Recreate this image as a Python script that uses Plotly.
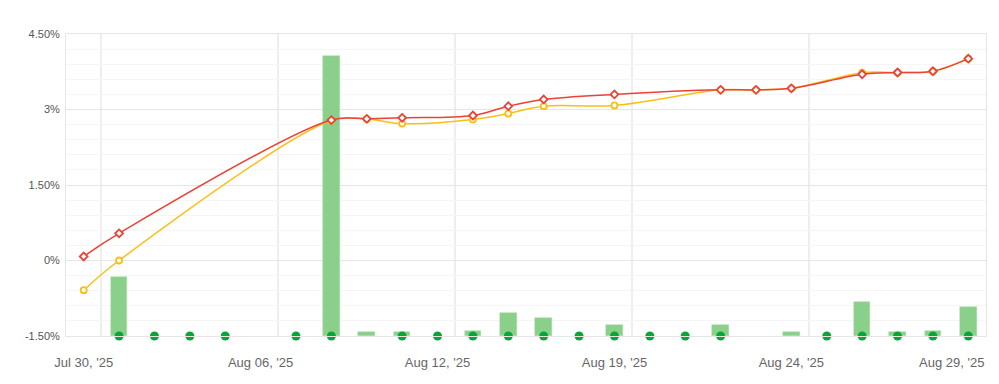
import plotly.graph_objects as go

dates = ["Jul 30, '25", "Jul 31, '25", "Aug 01, '25", "Aug 04, '25", "Aug 05, '25",
         "Aug 06, '25", "Aug 07, '25", "Aug 08, '25", "Aug 10, '25", "Aug 11, '25",
         "Aug 12, '25", "Aug 13, '25", "Aug 14, '25", "Aug 15, '25", "Aug 18, '25",
         "Aug 19, '25", "Aug 20, '25", "Aug 21, '25", "Aug 22, '25", "Aug 23, '25",
         "Aug 24, '25", "Aug 25, '25", "Aug 26, '25", "Aug 27, '25", "Aug 28, '25",
         "Aug 29, '25"]

red_series = [0.08, 0.54, None, None, None, None, None, 2.79, 2.815, 2.835,
              None, 2.88, 3.066, 3.20, None, 3.30, None, None, 3.39, 3.39,
              3.42, None, 3.70, 3.735, 3.76, 4.01]
yellow_series = [-0.59, 0.0, None, None, None, None, None, 2.78, 2.81, 2.72,
                 None, 2.80, 2.92, 3.066, None, 3.08, None, None, 3.39, 3.39,
                 3.42, None, 3.73, 3.735, 3.76, 4.01]
bar_values = [None, 1.17, None, None, None, None, None, 5.56, 0.07, 0.07,
              None, 0.105, 0.45, 0.35, None, 0.22, None, None, 0.22, None,
              0.07, None, 0.67, 0.07, 0.10, 0.57]
dot_flags = [0, 1, 1, 1, 1, 0, 1, 1, 0, 1,
             1, 1, 1, 1, 1, 1, 1, 1, 1, 0,
             0, 1, 1, 1, 1, 1]

y_min, y_max = -1.5, 4.5
y_tick_vals = [-1.5, 0, 1.5, 3, 4.5]
y_tick_text = ["-1.50%", "0%", "1.50%", "3%", "4.50%"]
label_step = 5

x = list(range(len(dates)))

fig = go.Figure()

fig.add_trace(go.Bar(
    x=x, y=bar_values, base=y_min, width=0.47,
    marker=dict(color="#8ad08a", line=dict(color="#a6dca6", width=0.5)),
    hoverinfo="skip", showlegend=False,
))

dot_x = [xi for xi, f in zip(x, dot_flags) if f]
fig.add_trace(go.Scatter(
    x=dot_x, y=[y_min] * len(dot_x), mode="markers",
    marker=dict(color="#08a63a", size=9),
    cliponaxis=False, showlegend=False,
))

fig.add_trace(go.Scatter(
    x=x, y=yellow_series, mode="lines+markers", connectgaps=True,
    line=dict(color="#fbbf14", width=1.5, shape="spline", smoothing=1.0),
    marker=dict(symbol="circle", size=6, color="white",
                line=dict(color="#fbbf14", width=1.8)),
    showlegend=False,
))

fig.add_trace(go.Scatter(
    x=x, y=red_series, mode="lines+markers", connectgaps=True,
    line=dict(color="#ea4336", width=1.5, shape="spline", smoothing=1.0),
    marker=dict(symbol="diamond", size=6, color="white",
                line=dict(color="#ea4336", width=1.8)),
    showlegend=False,
))

tick_idx = list(range(0, len(dates) - 1, label_step))

fig.add_annotation(
    x=len(dates) - 0.5, xref="x", xanchor="right",
    y=0, yref="paper", yanchor="top", yshift=-17,
    text=dates[-1], showarrow=False,
    font=dict(size=13, color="#666666"),
)

fig.update_layout(
    width=991, height=376,
    margin=dict(l=58, r=13, t=26, b=48),
    paper_bgcolor="white", plot_bgcolor="white",
    font=dict(family="Liberation Sans, Arial, sans-serif", color="#666666"),
    bargap=0,
    xaxis=dict(
        range=[-0.5, len(dates) - 0.5],
        tickmode="array", tickvals=tick_idx, ticktext=[dates[i] for i in tick_idx],
        showgrid=False, zeroline=False,
        showline=True, linecolor="#e6e6e6", linewidth=1, mirror=True,
        ticks="outside", ticklen=14, tickcolor="rgba(0,0,0,0)",
        tickfont=dict(size=13, color="#666666"),
        minor=dict(tickmode="linear", tick0=0.5, dtick=label_step,
                   showgrid=True, gridcolor="#eeeeee", gridwidth=2),
        automargin=False, fixedrange=True,
    ),
    yaxis=dict(
        range=[y_min, y_max],
        tickmode="array", tickvals=y_tick_vals, ticktext=y_tick_text,
        showgrid=True, gridcolor="#e6e6e6", gridwidth=1,
        zeroline=False,
        showline=True, linecolor="#e6e6e6", linewidth=1, mirror=True,
        ticks="outside", ticklen=3, tickcolor="rgba(0,0,0,0)",
        tickfont=dict(size=11, color="#555555"),
        minor=dict(tickmode="linear", tick0=y_min, dtick=0.3,
                   showgrid=True, gridcolor="#f5f5f5", gridwidth=1),
        automargin=False, fixedrange=True,
    ),
)

fig.write_html("out.html")
